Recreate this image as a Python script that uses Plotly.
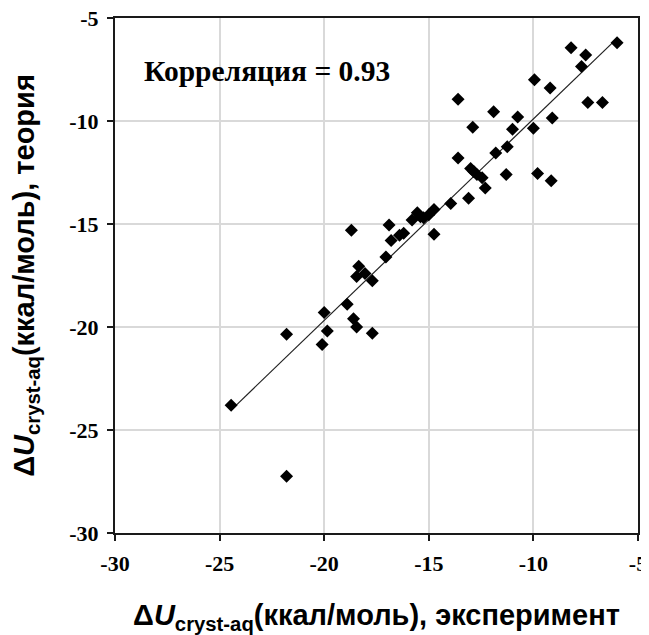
import numpy as np
import plotly.graph_objects as go

# experimental values (x) and theoretical values (y), kcal/mol
exp_vals = [-6.0, -8.2, -7.5, -7.7, -9.95, -9.2, -13.6, -7.4, -6.7, -11.9,
            -10.75, -9.1, -12.9, -11.0, -10.0, -11.25, -11.8, -13.6, -13.0, -12.7,
            -12.45, -11.3, -9.8, -9.15, -12.3, -13.1, -13.95, -14.75, -15.25, -15.55,
            -15.8, -15.4, -14.75, -16.9, -16.2, -16.8, -16.4, -17.05, -18.7, -18.35,
            -18.45, -18.05, -17.7, -18.9, -20.0, -18.6, -18.45, -19.85, -17.7, -21.8,
            -20.1, -24.45, -21.8, -12.85, -15.0]
theory_vals = [-6.2, -6.45, -6.8, -7.35, -8.0, -8.4, -8.95, -9.1, -9.1, -9.55,
               -9.8, -9.85, -10.3, -10.4, -10.35, -11.25, -11.55, -11.8, -12.3, -12.6,
               -12.75, -12.6, -12.55, -12.9, -13.25, -13.75, -14.0, -14.3, -14.7, -14.45,
               -14.8, -14.65, -15.5, -15.05, -15.45, -15.8, -15.55, -16.6, -15.3, -17.05,
               -17.55, -17.4, -17.75, -18.9, -19.3, -19.6, -20.0, -20.2, -20.3, -20.35,
               -20.85, -23.8, -27.25, -12.45, -14.55]

x_ticks = [-30, -25, -20, -15, -10, -5]
y_ticks = [-30, -25, -20, -15, -10, -5]
corr_label = "Корреляция = 0.93"

xa = np.array(exp_vals)
ya = np.array(theory_vals)
slope, intercept = np.polyfit(xa, ya, 1)
fx = np.array([xa.min(), xa.max()])
fy = slope * fx + intercept

fig = go.Figure()
fig.add_trace(go.Scatter(x=fx, y=fy, mode="lines",
                         line=dict(color="#222222", width=1.2),
                         showlegend=False, hoverinfo="skip"))
fig.add_trace(go.Scatter(x=exp_vals, y=theory_vals, mode="markers",
                         marker=dict(symbol="diamond", size=10, color="black",
                                     line=dict(width=0)),
                         showlegend=False))

fig.add_annotation(x=-28.7, y=-7.55, xref="x", yref="y", text="<b>" + corr_label + "</b>",
                   showarrow=False, xanchor="left", yanchor="middle",
                   font=dict(family="Liberation Serif", size=29.5, color="black"))

title_font = dict(family="Liberation Sans", size=29, color="black")
tick_font = dict(family="Liberation Serif", size=22, color="black", weight="bold")

common = dict(range=[-30, -5],
              showgrid=True, gridcolor="#d9d9d9", gridwidth=1.5,
              showline=True, linecolor="#1a1a1a", linewidth=2, mirror=True,
              ticks="outside", ticklen=6, tickwidth=1.5, tickcolor="#1a1a1a",
              zeroline=False, automargin=False, ticklabeloverflow="allow",
              tickmode="array", tickfont=tick_font, ticklabelstandoff=4)

fig.update_layout(
    width=641, height=627,
    margin=dict(l=107, r=11, t=10, b=102),
    plot_bgcolor="white", paper_bgcolor="white",
    font=dict(family="Liberation Serif", size=22, color="black"),
)
fig.update_xaxes(**common, tickvals=x_ticks,
                 ticktext=[str(v) for v in x_ticks],
                 title=dict(text="<b>Δ<i>U</i><sub>cryst-aq</sub>(ккал/моль), эксперимент</b>",
                            font=title_font, standoff=30))
fig.update_yaxes(**common, tickvals=y_ticks,
                 ticktext=[str(v) for v in y_ticks],
                 title=dict(text="<b>Δ<i>U</i><sub>cryst-aq</sub>(ккал/моль), теория</b>",
                            font=title_font, standoff=30))

fig.write_html("out.html")
